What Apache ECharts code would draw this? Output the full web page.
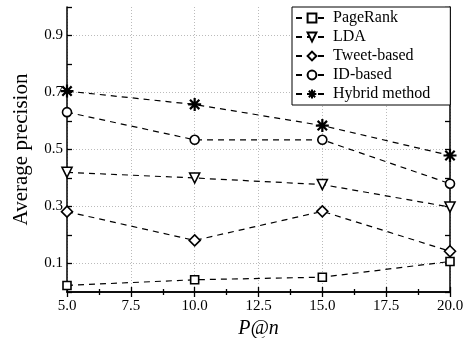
<!DOCTYPE html>
<html><head><meta charset="utf-8">
<script src="https://cdn.jsdelivr.net/npm/echarts@6/dist/echarts.min.js"></script>
<style>html,body{margin:0;padding:0;background:#fff}#c{width:464px;height:338px}</style>
</head><body><div id="c"></div>
<script>
const xValues = [5, 10, 15, 20];
const seriesNames = ['PageRank', 'LDA', 'Tweet-based', 'ID-based', 'Hybrid method'];
const pageRank = [0.023, 0.043, 0.052, 0.107];
const lda = [0.42, 0.40, 0.377, 0.298];
const tweetBased = [0.282, 0.181, 0.283, 0.143];
const idBased = [0.631, 0.534, 0.534, 0.38];
const hybrid = [0.705, 0.658, 0.584, 0.479];
const yTickLabels = ['0.1', '0.3', '0.5', '0.7', '0.9'];
const xTickLabels = ['5.0', '7.5', '10.0', '12.5', '15.0', '17.5', '20.0'];

const font = 'Liberation Serif';
const asterisk = 'path://M0,-5L0,5M-5,0L5,0M-3.6,-3.6L3.6,3.6M-3.6,3.6L3.6,-3.6';
const symbols = [
  {symbol: 'rect', size: 8, rotate: 0, bw: 1.6},
  {symbol: 'triangle', size: 10, rotate: 180, bw: 1.6},
  {symbol: 'diamond', size: 11, rotate: 0, bw: 1.6},
  {symbol: 'circle', size: 9, rotate: 0, bw: 1.6},
  {symbol: asterisk, size: 13, rotate: 0, bw: 2.2}
];
const allData = [pageRank, lda, tweetBased, idBased, hybrid];

const series = seriesNames.map((n, i) => ({
  name: n,
  type: 'line',
  data: xValues.map((x, j) => [x, allData[i][j]]),
  symbol: symbols[i].symbol,
  symbolSize: symbols[i].size,
  symbolRotate: symbols[i].rotate,
  showAllSymbol: true,
  lineStyle: {color: '#000', width: 1.2, type: [6, 5]},
  itemStyle: {color: i === 4 ? '#000' : '#fff', borderColor: '#000', borderWidth: symbols[i].bw},
  emphasis: {disabled: true},
  z: 3
}));

const chart = echarts.init(document.getElementById('c'), null, {renderer: 'canvas'});
const xFmt = v => { const s = v.toFixed(1); return xTickLabels.indexOf(s) >= 0 ? s : ''; };
const yFmt = v => { const s = v.toFixed(1); return yTickLabels.indexOf(s) >= 0 ? s : ''; };
chart.setOption({
  animation: false,
  backgroundColor: '#fff',
  grid: {left: 67, right: 14, top: 7, bottom: 46, outerBoundsMode: 'none', containLabel: false},
  legend: {
    orient: 'vertical', left: 292, top: 7,
    itemWidth: 32, itemHeight: 11, itemGap: 3,
    padding: [3, 20, 3, 3],
    borderColor: '#000', borderWidth: 1, backgroundColor: '#fff',
    textStyle: {fontFamily: font, fontSize: 16, color: '#000'},
    data: seriesNames, z: 10
  },
  xAxis: [{
    type: 'value', min: 5, max: 20, interval: 2.5,
    name: 'P@n', nameLocation: 'middle', nameGap: 27,
    nameTextStyle: {fontFamily: font, fontSize: 20, fontStyle: 'italic', color: '#000'},
    axisLine: {lineStyle: {color: '#000', width: 1.5}},
    axisTick: {inside: true, length: 5, lineStyle: {color: '#000', width: 1.3}},
    minorTick: {show: true, splitNumber: 2, length: 3, lineStyle: {color: '#000', width: 1.3}},
    axisLabel: {fontFamily: font, fontSize: 15, color: '#000', margin: 7, formatter: xFmt},
    splitLine: {show: true, lineStyle: {color: '#bbb', type: [1, 2], width: 1}}
  }, {
    type: 'value', position: 'top', min: 5, max: 20, interval: 2.5,
    axisLine: {lineStyle: {color: '#000', width: 1.5}},
    axisTick: {inside: true, length: 5, lineStyle: {color: '#000', width: 1.3}},
    minorTick: {show: true, splitNumber: 2, length: 3, lineStyle: {color: '#000', width: 1.3}},
    axisLabel: {show: false}, splitLine: {show: false}
  }],
  yAxis: [{
    type: 'value', min: 0, max: 1, interval: 0.1,
    name: 'Average precision', nameLocation: 'middle', nameGap: 35,
    nameTextStyle: {fontFamily: font, fontSize: 21, color: '#000'},
    axisLine: {lineStyle: {color: '#000', width: 1.5}},
    axisTick: {inside: true, length: 5, lineStyle: {color: '#000', width: 1.3}},
    axisLabel: {fontFamily: font, fontSize: 15, color: '#000', margin: 4, formatter: yFmt},
    splitLine: {show: true, lineStyle: {color: ['rgba(0,0,0,0)', '#bbb'], type: [1, 2], width: 1}}
  }, {
    type: 'value', position: 'right', min: 0, max: 1, interval: 0.1,
    axisLine: {show: true, lineStyle: {color: '#000', width: 1.5}},
    axisTick: {show: true, inside: true, length: 5, lineStyle: {color: '#000', width: 1.3}},
    axisLabel: {show: false}, splitLine: {show: false}
  }],
  series: series
});
</script></body></html>
